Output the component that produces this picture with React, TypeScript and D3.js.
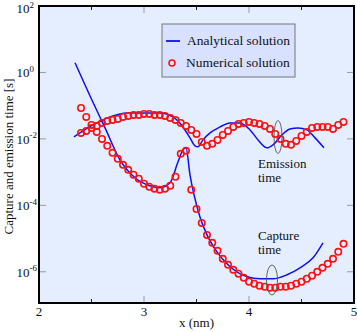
import React from "react";
import * as d3 from "d3";

const W = 357;
const H = 332;

// numerical solution (circles), x grid 2.40 .. 4.90 step 0.05
const numX: number[] = [
  2.4, 2.45, 2.5, 2.55, 2.6, 2.65, 2.7, 2.75, 2.8, 2.85, 2.9, 2.95, 3.0, 3.05, 3.1, 3.15, 3.2,
  3.25, 3.3, 3.35, 3.4, 3.45, 3.5, 3.55, 3.6, 3.65, 3.7, 3.75, 3.8, 3.85, 3.9, 3.95, 4.0, 4.05,
  4.1, 4.15, 4.2, 4.25, 4.3, 4.35, 4.4, 4.45, 4.5, 4.55, 4.6, 4.65, 4.7, 4.75, 4.8, 4.85, 4.9,
];
// log10 of capture time (numerical)
const numCaptureLog: number[] = [
  -1.07, -1.34, -1.58, -1.79, -2.0, -2.21, -2.42, -2.6, -2.78, -2.93, -3.08, -3.2, -3.35, -3.44,
  -3.5, -3.53, -3.5, -3.41, -3.14, -2.45, -2.36, -3.53, -4.11, -4.53, -4.89, -5.13, -5.37, -5.61,
  -5.79, -5.94, -6.06, -6.18, -6.3, -6.36, -6.42, -6.45, -6.48, -6.48, -6.45, -6.45, -6.42,
  -6.36, -6.3, -6.21, -6.12, -6.0, -5.88, -5.76, -5.61, -5.4, -5.16,
];
// log10 of emission time (numerical)
const numEmissionLog: number[] = [
  -1.82, -1.76, -1.67, -1.61, -1.52, -1.46, -1.43, -1.4, -1.34, -1.31, -1.28, -1.28, -1.25,
  -1.25, -1.28, -1.28, -1.31, -1.37, -1.43, -1.52, -1.61, -1.73, -1.85, -2.09, -2.21, -2.15,
  -2.03, -1.88, -1.76, -1.64, -1.55, -1.52, -1.49, -1.52, -1.55, -1.61, -1.7, -1.85, -2.0,
  -2.15, -2.18, -2.06, -1.91, -1.79, -1.67, -1.64, -1.64, -1.64, -1.7, -1.58, -1.49,
];

// analytical solution (lines)
const anaCapX: number[] = [
  2.343, 2.486, 2.629, 2.771, 2.914, 3.057, 3.152, 3.248, 3.324, 3.371, 3.4, 3.438, 3.476,
  3.533, 3.6, 3.695, 3.8, 3.981, 4.105, 4.229, 4.362, 4.486, 4.61, 4.705,
];
const anaCapLog: number[] = [
  0.29, -0.71, -1.67, -2.63, -3.17, -3.41, -3.47, -3.32, -2.69, -2.33, -2.27, -3.08, -3.68,
  -4.35, -4.89, -5.4, -5.79, -6.15, -6.21, -6.21, -6.09, -5.88, -5.58, -5.13,
];
const anaEmiX: number[] = [
  2.333, 2.514, 2.676, 2.838, 2.99, 3.152, 3.276, 3.371, 3.438, 3.486, 3.514, 3.562, 3.629,
  3.724, 3.819, 3.914, 4.01, 4.086, 4.171, 4.229, 4.314, 4.39, 4.467, 4.552, 4.629, 4.714,
];
const anaEmiLog: number[] = [
  -1.94, -1.58, -1.34, -1.22, -1.22, -1.22, -1.34, -1.64, -1.97, -2.21, -2.24, -2.03, -1.82,
  -1.64, -1.52, -1.52, -1.73, -2.03, -2.27, -2.18, -1.88, -1.7, -1.67, -1.73, -1.97, -2.27,
];

const xMajor: number[] = [2, 3, 4, 5];
const xMinor: number[] = [2.5, 3.5, 4.5];
const yMajorExp: number[] = [2, 0, -2, -4, -6];
const legendLabels: string[] = ["Analytical solution", "Numerical solution"];

const FONT = "'Liberation Serif', 'DejaVu Serif', serif";

export default function App() {
  const left = 39;
  const right = 354;
  const top = 6;
  const bottom = 303;
  const x = d3.scaleLinear().domain([2, 5]).range([left, right]);
  const y = d3.scaleLog().domain([1e-7, 1e2]).range([305, 6]);

  const line = d3
    .line<[number, number]>()
    .x((d) => x(d[0]))
    .y((d) => y(Math.pow(10, d[1])))
    .curve(d3.curveMonotoneX);

  const capPath = line(anaCapX.map((v, i) => [v, anaCapLog[i]] as [number, number])) || "";
  const emiPath = line(anaEmiX.map((v, i) => [v, anaEmiLog[i]] as [number, number])) || "";

  const blue = "#1010ee";
  const red = "#ff1010";

  return (
    <svg
      width={W}
      height={H}
      style={{ position: "absolute", left: 0, top: 0, background: "#fff" }}
      fontFamily={FONT}
    >
      <defs>
        <clipPath id="plotclip">
          <rect x={left} y={top} width={right - left} height={bottom - top} />
        </clipPath>
      </defs>
      <rect x={left} y={top} width={right - left} height={bottom - top} fill="#e5eeff" />

      {/* ticks */}
      {xMajor.map((v) => (
        <g key={"xm" + v} stroke="#999" strokeWidth={1}>
          <line x1={x(v)} x2={x(v)} y1={bottom} y2={bottom - 7} />
          <line x1={x(v)} x2={x(v)} y1={top} y2={top + 7} />
        </g>
      ))}
      {xMinor.map((v) => (
        <g key={"xn" + v} stroke="#222" strokeWidth={1}>
          <line x1={x(v)} x2={x(v)} y1={bottom} y2={bottom - 4} />
          <line x1={x(v)} x2={x(v)} y1={top} y2={top + 4} />
        </g>
      ))}
      {yMajorExp.map((e) => (
        <g key={"ym" + e} stroke="#999" strokeWidth={1}>
          <line x1={left} x2={left + 7} y1={y(Math.pow(10, e))} y2={y(Math.pow(10, e))} />
          <line x1={right} x2={right - 7} y1={y(Math.pow(10, e))} y2={y(Math.pow(10, e))} />
        </g>
      ))}

      <g clipPath="url(#plotclip)">
        <path d={capPath} fill="none" stroke={blue} strokeWidth={1.5} />
        <path d={emiPath} fill="none" stroke={blue} strokeWidth={1.5} />
        {numX.map((v, i) => (
          <circle
            key={"c" + i}
            cx={x(v)}
            cy={y(Math.pow(10, numCaptureLog[i]))}
            r={3.2}
            fill="none"
            stroke={red}
            strokeWidth={1.6}
          />
        ))}
        {numX.map((v, i) => (
          <circle
            key={"e" + i}
            cx={x(v)}
            cy={y(Math.pow(10, numEmissionLog[i]))}
            r={3.2}
            fill="none"
            stroke={red}
            strokeWidth={1.6}
          />
        ))}
      </g>

      {/* annotation ellipses */}
      <ellipse cx={278} cy={137} rx={4} ry={16.5} fill="none" stroke="#555" strokeWidth={0.9} />
      <ellipse cx={272} cy={280} rx={5.5} ry={15} fill="none" stroke="#555" strokeWidth={0.9} />
      <text x={258} y={168} fontSize={13} fill="#111">Emission</text>
      <text x={258} y={182} fontSize={13} fill="#111">time</text>
      <text x={258} y={240} fontSize={13} fill="#111">Capture</text>
      <text x={258} y={254} fontSize={13} fill="#111">time</text>

      {/* legend */}
      <rect x={162} y={24} width={133} height={53} fill="#d8e1ff" stroke="#777" strokeWidth={1} />
      <line x1={166} x2={180} y1={41} y2={41} stroke={blue} strokeWidth={1.8} />
      <circle cx={172} cy={63} r={3} fill="none" stroke={red} strokeWidth={1.6} />
      <text x={187} y={45} fontSize={13.5} fill="#111">{legendLabels[0]}</text>
      <text x={186} y={67} fontSize={13.5} fill="#111">{legendLabels[1]}</text>

      {/* frame */}
      <rect x={left} y={top} width={right - left} height={bottom - top} fill="none" stroke="#000" strokeWidth={2} />

      {/* tick labels */}
      {xMajor.map((v) => (
        <text key={"xl" + v} x={x(v)} y={315.5} fontSize={13} textAnchor="middle" fill="#111">
          {v}
        </text>
      ))}
      {yMajorExp.map((e) => (
        <text
          key={"yl" + e}
          x={16.5}
          y={Math.max(y(Math.pow(10, e)) + 5, 13)}
          fontSize={13}
          fill="#111"
        >
          10
          <tspan fontSize={9} dy={-5.5}>
            {e}
          </tspan>
        </text>
      ))}

      <text x={196.5} y={326.5} fontSize={13} textAnchor="middle" fill="#111">
        x (nm)
      </text>
      <text
        transform={`translate(12.5, ${(top + bottom) / 2 + 2}) rotate(-90)`}
        fontSize={13}
        textAnchor="middle"
        fill="#111"
      >
        Capture and emission time [s]
      </text>
    </svg>
  );
}
